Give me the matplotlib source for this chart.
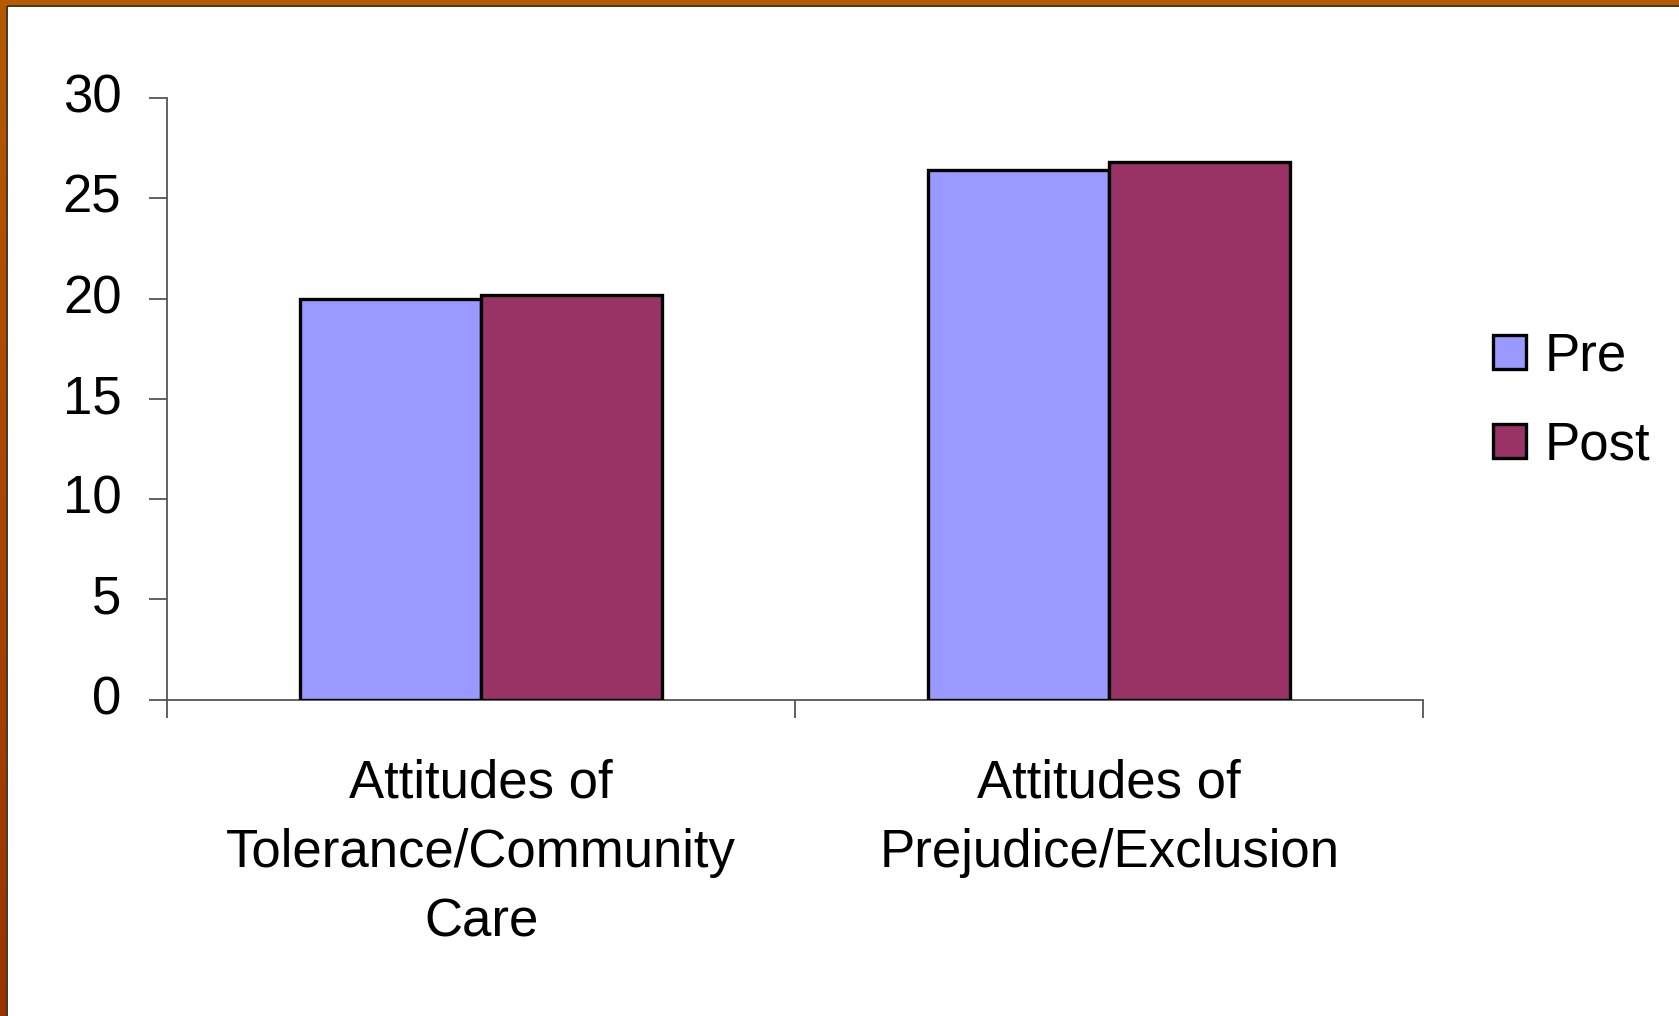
import numpy as np
import matplotlib
matplotlib.use("Agg")
import matplotlib.pyplot as plt
import matplotlib.transforms as mtransforms
from matplotlib.patches import Patch, Rectangle
from matplotlib.colors import LinearSegmentedColormap

# Attitude scores before and after
categories = ["Attitudes of\nTolerance/Community\nCare", "Attitudes of\nPrejudice/Exclusion"]
series_names = ["Pre", "Post"]
pre_values = [20.0, 26.4]
post_values = [20.2, 26.8]
y_ticks = [0, 5, 10, 15, 20, 25, 30]

pre_color = "#9999FF"
post_color = "#993366"
axis_color = "#555555"

plt.rcParams["font.family"] = ["Liberation Sans", "DejaVu Sans"]

fig = plt.figure(figsize=(16.79, 10.16), dpi=100)
fig.patch.set_facecolor("white")

ax = fig.add_axes([0.0996, 0.3113, 0.7481, 0.5920])

x = np.arange(len(categories))
width = 0.288
ax.bar(x - width / 2, pre_values, width, color=pre_color, edgecolor="black",
       linewidth=2.4, label=series_names[0], zorder=3)
ax.bar(x + width / 2, post_values, width, color=post_color, edgecolor="black",
       linewidth=2.4, label=series_names[1], zorder=3)

ax.set_xlim(-0.5, len(categories) - 0.5)
ax.set_ylim(0, 30)
ax.set_yticks(y_ticks)
ax.set_yticklabels([str(t) for t in y_ticks], fontsize=38)
ax.set_xticks(x)
ax.set_xticklabels(categories, fontsize=38, linespacing=1.5)
ax.set_xticks(np.arange(-0.5, len(categories), 1.0), minor=True)

ax.tick_params(axis="x", which="major", length=0, pad=42)
ax.tick_params(axis="x", which="minor", length=13, width=1.3, color=axis_color, direction="out")
ax.tick_params(axis="y", length=13, width=1.3, color=axis_color, direction="out", pad=20)

# Lift the value labels a little so they sit just above their ticks
lift = mtransforms.ScaledTranslation(0, 5 / 100, fig.dpi_scale_trans)
for lbl in ax.get_yticklabels():
    lbl.set_transform(lbl.get_transform() + lift)

for side in ["top", "right"]:
    ax.spines[side].set_visible(False)
for side in ["left", "bottom"]:
    ax.spines[side].set_color(axis_color)
    ax.spines[side].set_linewidth(1.3)

handles = [Patch(facecolor=pre_color, edgecolor="black", linewidth=2.4),
           Patch(facecolor=post_color, edgecolor="black", linewidth=2.4)]
fig.legend(handles, series_names, loc="upper left", bbox_to_anchor=(0.8895, 0.674),
           frameon=False, fontsize=38, handlelength=0.62, handleheight=0.62,
           handletextpad=0.35, labelspacing=0.75, borderpad=0, borderaxespad=0)

# Brown slide frame along the top and left edges
cmap = LinearSegmentedColormap.from_list("frame", ["#B65A00", "#993300"])
frame_ax = fig.add_axes([0, 0, 1, 1], zorder=-1)
frame_ax.set_xlim(0, 1679)
frame_ax.set_ylim(1016, 0)
frame_ax.axis("off")
frame_ax.imshow(np.linspace(0, 1, 256).reshape(-1, 1), cmap=cmap, aspect="auto",
                extent=[0, 6, 1016, 0])
frame_ax.add_patch(Rectangle((0, 0), 1679, 5, facecolor="#B65A00", edgecolor="none"))
frame_ax.plot([6.5, 6.5, 1679], [1016, 5.5, 5.5], color="#2a1000", linewidth=1.2)

fig.savefig("out.png", dpi=100, facecolor="white")
